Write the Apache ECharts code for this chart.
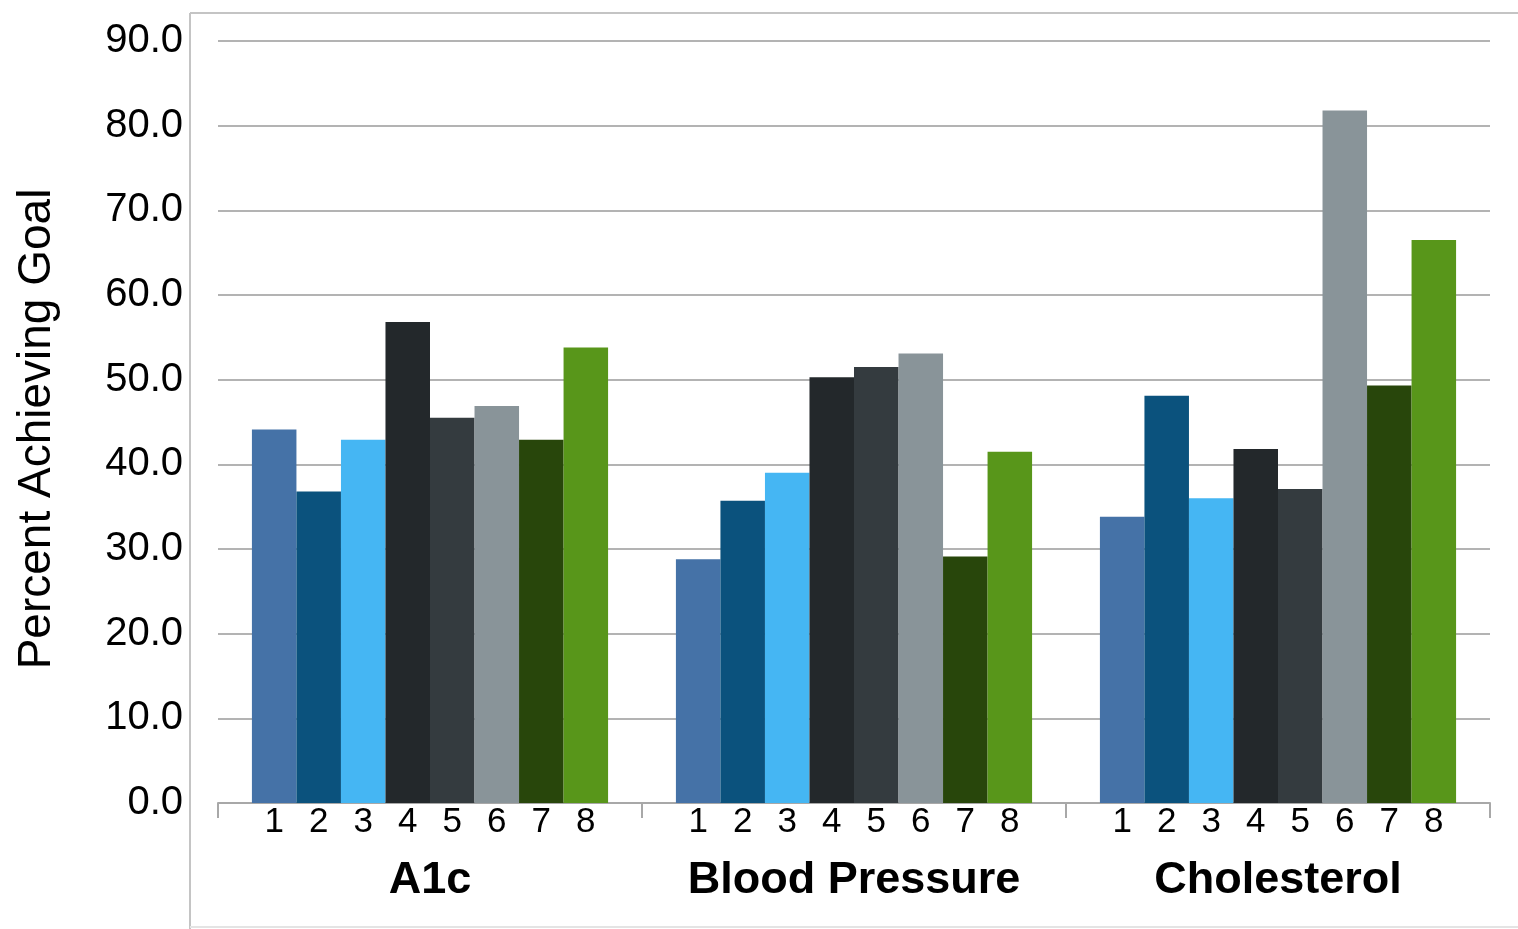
<!DOCTYPE html>
<html>
<head>
<meta charset="utf-8">
<script src="https://cdn.jsdelivr.net/npm/echarts@6/dist/echarts.min.js"></script>
<style>
html,body{margin:0;padding:0;background:#fff;}
#chart{width:1518px;height:929px;}
</style>
</head>
<body>
<div id="chart"></div>
<script>
const categories = ['A1c', 'Blood Pressure', 'Cholesterol'];
const seriesNames = ['1', '2', '3', '4', '5', '6', '7', '8'];
const s1 = [44.1, 28.8, 33.8];
const s2 = [36.8, 35.7, 48.1];
const s3 = [42.9, 39.0, 36.0];
const s4 = [56.8, 50.3, 41.8];
const s5 = [45.5, 51.5, 37.1];
const s6 = [46.9, 53.1, 81.8];
const s7 = [42.9, 29.1, 49.3];
const s8 = [53.8, 41.5, 66.5];
const seriesValues = [s1, s2, s3, s4, s5, s6, s7, s8];
const colors = ['#4572A7', '#0B527D', '#45B6F3', '#23282B', '#343B3F', '#899499', '#28460B', '#58961A'];
const yTitle = 'Percent Achieving Goal';

const FONT = '"Liberation Sans", Arial, sans-serif';
const chart = echarts.init(document.getElementById('chart'));

const series = seriesNames.map((name, i) => ({
  name: name,
  type: 'bar',
  data: seriesValues[i],
  barGap: '0%',
  barCategoryGap: '16%',
  itemStyle: { color: colors[i] },
  label: {
    show: true,
    position: 'bottom',
    distance: 2,
    formatter: name,
    color: '#000',
    fontFamily: FONT,
    fontSize: 35
  },
  emphasis: { disabled: true }
}));

chart.setOption({
  animation: false,
  backgroundColor: '#fff',
  grid: { left: 218, right: 28, top: 41, bottom: 126, containLabel: false },
  xAxis: {
    type: 'category',
    data: categories,
    axisLine: { show: true, lineStyle: { color: '#a8a8a8', width: 2 } },
    axisTick: { show: true, length: 15, lineStyle: { color: '#a8a8a8', width: 2 } },
    axisLabel: {
      interval: 0,
      margin: 55,
      color: '#000',
      fontFamily: FONT,
      fontSize: 45,
      fontWeight: 'bold'
    },
    splitLine: { show: false }
  },
  yAxis: {
    type: 'value',
    min: 0,
    max: 90,
    interval: 10,
    name: yTitle,
    nameLocation: 'middle',
    nameGap: 158,
    nameTextStyle: { color: '#000', fontFamily: FONT, fontSize: 46, padding: [0, 14, 0, 0] },
    axisLine: { show: false },
    axisTick: { show: false },
    axisLabel: {
      margin: 35,
      color: '#000',
      fontFamily: FONT,
      fontSize: 40,
      formatter: v => v.toFixed(1)
    },
    splitLine: { show: true, lineStyle: { color: '#b3b3b3', width: 2 } }
  },
  graphic: [
    { type: 'line', shape: { x1: 190, y1: 13, x2: 1518, y2: 13 }, style: { stroke: '#c4c4c4', lineWidth: 2 }, silent: true },
    { type: 'line', shape: { x1: 190, y1: 13, x2: 190, y2: 929 }, style: { stroke: '#c4c4c4', lineWidth: 2 }, silent: true },
    { type: 'line', shape: { x1: 190, y1: 927, x2: 1518, y2: 927 }, style: { stroke: '#e4e4e4', lineWidth: 2 }, silent: true }
  ],
  series: series
});
</script>
</body>
</html>
